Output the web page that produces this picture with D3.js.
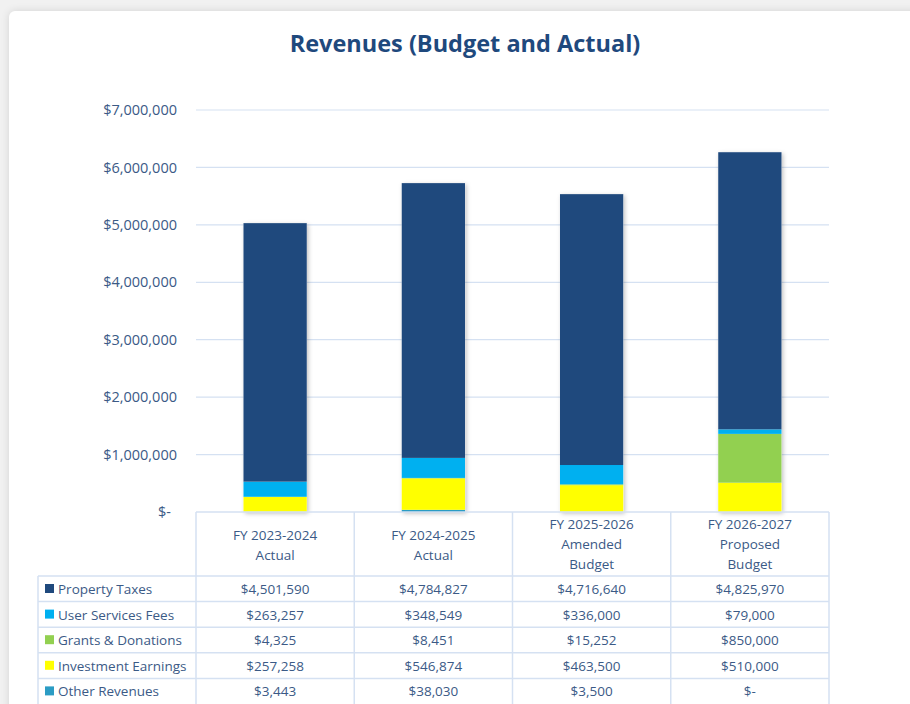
<!DOCTYPE html>
<html>
<head>
<meta charset="utf-8">
<script src="https://cdn.jsdelivr.net/npm/d3@7"></script>
<style>
  html, body { margin: 0; padding: 0; background: #f1f1f1; overflow: hidden; }
  #card {
    position: absolute; left: 9px; top: 11px; width: 960px; height: 760px;
    background: #fff; border-radius: 6px;
    box-shadow: 0 0 8px rgba(0,0,0,0.12);
  }
  svg { position: absolute; left: 0; top: 0; }
</style>
</head>
<body>
<div id="card"></div>
<svg id="chart" width="910" height="704"></svg>
<script>
// categories (two/three line labels in the table header)
var periods = [
  ['FY 2023-2024', 'Actual'],
  ['FY 2024-2025', 'Actual'],
  ['FY 2025-2026', 'Amended', 'Budget'],
  ['FY 2026-2027', 'Proposed', 'Budget']
];
var seriesNames = ['Property Taxes', 'User Services Fees', 'Grants & Donations', 'Investment Earnings', 'Other Revenues'];
var seriesColors = ['#1f497d', '#00b0f0', '#92d050', '#ffff00', '#2b9cc4'];

var propertyTaxes = [4501590, 4784827, 4716640, 4825970];
var userFees = [263257, 348549, 336000, 79000];
var grants = [4325, 8451, 15252, 850000];
var investment = [257258, 546874, 463500, 510000];
var otherRevenues = [3443, 38030, 3500, 0];

var yTicks = [0, 1000000, 2000000, 3000000, 4000000, 5000000, 6000000, 7000000];

var values = [propertyTaxes, userFees, grants, investment, otherRevenues];
var textColor = '#3b5a86';
var gridColor = '#d5e1f2';
var font = '"Open Sans", sans-serif';

var svg = d3.select('#chart');

var defs = svg.append('defs');
var f = defs.append('filter').attr('id', 'shadow')
  .attr('x', '-20%').attr('y', '-5%').attr('width', '140%').attr('height', '110%');
f.append('feDropShadow').attr('dx', 1.5).attr('dy', 1.5).attr('stdDeviation', 2)
  .attr('flood-color', '#000').attr('flood-opacity', 0.25);

// title
svg.append('text')
  .attr('x', 465).attr('y', 52)
  .attr('text-anchor', 'middle')
  .style('font-family', font)
  .style('font-weight', 'bold')
  .style('font-size', '23.5px')
  .style('fill', '#1f497d')
  .text('Revenues (Budget and Actual)');

var plotLeft = 196, plotRight = 829, plotTop = 110, plotBottom = 512;

var x = d3.scaleBand().domain(d3.range(periods.length)).range([plotLeft, plotRight]).paddingInner(0.6).paddingOuter(0.3);
var y = d3.scaleLinear().domain([0, 7000000]).range([plotBottom, plotTop]);

// gridlines
svg.append('g').selectAll('line').data(yTicks.slice(1)).join('line')
  .attr('x1', plotLeft).attr('x2', plotRight)
  .attr('y1', function (d) { return y(d); }).attr('y2', function (d) { return y(d); })
  .attr('stroke', gridColor).attr('stroke-width', 1.2);

// y axis labels
var yAxis = d3.axisLeft(y).tickValues(yTicks).tickSize(0).tickPadding(0)
  .tickFormat(function (d) { return d === 0 ? '$-' : '$' + d3.format(',')(d); });
var ya = svg.append('g').attr('transform', 'translate(177,0)').call(yAxis);
ya.select('.domain').remove();
ya.selectAll('text')
  .style('font-family', font).style('font-size', '14.5px').style('fill', textColor);
ya.selectAll('.tick').filter(function (d) { return d === 0; }).select('text').attr('dx', -6);

// stacked bars, bottom to top: other, investment, grants, user fees, property taxes
var rows = periods.map(function (p, i) {
  return { i: i, pt: propertyTaxes[i], uf: userFees[i], gr: grants[i], inv: investment[i], oth: otherRevenues[i] };
});
var keys = ['oth', 'inv', 'gr', 'uf', 'pt'];
var keyColor = { pt: seriesColors[0], uf: seriesColors[1], gr: seriesColors[2], inv: seriesColors[3], oth: seriesColors[4] };
var stack = d3.stack().keys(keys)(rows);

var barGroup = svg.append('g');
barGroup.selectAll('rect.shadow').data(rows).join('rect')
  .attr('class', 'shadow')
  .attr('x', function (d) { return x(d.i); })
  .attr('width', x.bandwidth())
  .attr('y', function (d) { return y(d.pt + d.uf + d.gr + d.inv + d.oth); })
  .attr('height', function (d) { return plotBottom - y(d.pt + d.uf + d.gr + d.inv + d.oth); })
  .attr('fill', '#fff')
  .attr('filter', 'url(#shadow)');

barGroup.selectAll('g.layer').data(stack).join('g')
  .attr('class', 'layer')
  .attr('fill', function (d) { return keyColor[d.key]; })
  .selectAll('rect').data(function (d) { return d; }).join('rect')
  .attr('x', function (d) { return x(d.data.i); })
  .attr('width', x.bandwidth())
  .attr('y', function (d) { return y(d[1]); })
  .attr('height', function (d) { return y(d[0]) - y(d[1]); });

// data table
var colEdges = d3.range(periods.length + 1).map(function (i) { return plotLeft + i * (plotRight - plotLeft) / periods.length; });
var tableLeft = 38;
var headerBottom = 576;
var rowH = 25.6;
var rowTops = seriesNames.map(function (s, i) { return headerBottom + i * rowH; });

var tbl = svg.append('g');
var lineStyle = function (sel) { sel.attr('stroke', gridColor).attr('stroke-width', 1.5).attr('fill', 'none'); };

tbl.append('line').attr('x1', plotLeft).attr('x2', plotRight).attr('y1', plotBottom).attr('y2', plotBottom).call(lineStyle);
colEdges.forEach(function (cx) {
  tbl.append('line').attr('x1', cx).attr('x2', cx).attr('y1', plotBottom).attr('y2', 704).call(lineStyle);
});
tbl.append('line').attr('x1', tableLeft).attr('x2', tableLeft).attr('y1', headerBottom).attr('y2', 704).call(lineStyle);
rowTops.forEach(function (ry) {
  tbl.append('line').attr('x1', tableLeft).attr('x2', plotRight).attr('y1', ry).attr('y2', ry).call(lineStyle);
});

// header text
periods.forEach(function (p, i) {
  var cx = (colEdges[i] + colEdges[i + 1]) / 2;
  var startY = p.length === 2 ? 540 : 529;
  p.forEach(function (line, k) {
    tbl.append('text')
      .attr('x', cx).attr('y', startY + k * 20)
      .attr('text-anchor', 'middle')
      .style('font-family', font).style('font-size', '13.5px').style('fill', textColor)
      .text(line);
  });
});

var money = function (v) { return v === 0 ? '$-' : '$' + d3.format(',')(v); };

seriesNames.forEach(function (name, r) {
  var ry = rowTops[r];
  tbl.append('rect')
    .attr('x', 45).attr('y', ry + 8).attr('width', 9).attr('height', 9)
    .attr('fill', seriesColors[r]);
  tbl.append('text')
    .attr('x', 58).attr('y', ry + 18)
    .style('font-family', font).style('font-size', '13.5px').style('fill', textColor)
    .text(name);
  values[r].forEach(function (v, i) {
    tbl.append('text')
      .attr('x', (colEdges[i] + colEdges[i + 1]) / 2).attr('y', ry + 18)
      .attr('text-anchor', 'middle')
      .style('font-family', font).style('font-size', '13.5px').style('fill', textColor)
      .text(money(v));
  });
});
</script>
</body>
</html>
